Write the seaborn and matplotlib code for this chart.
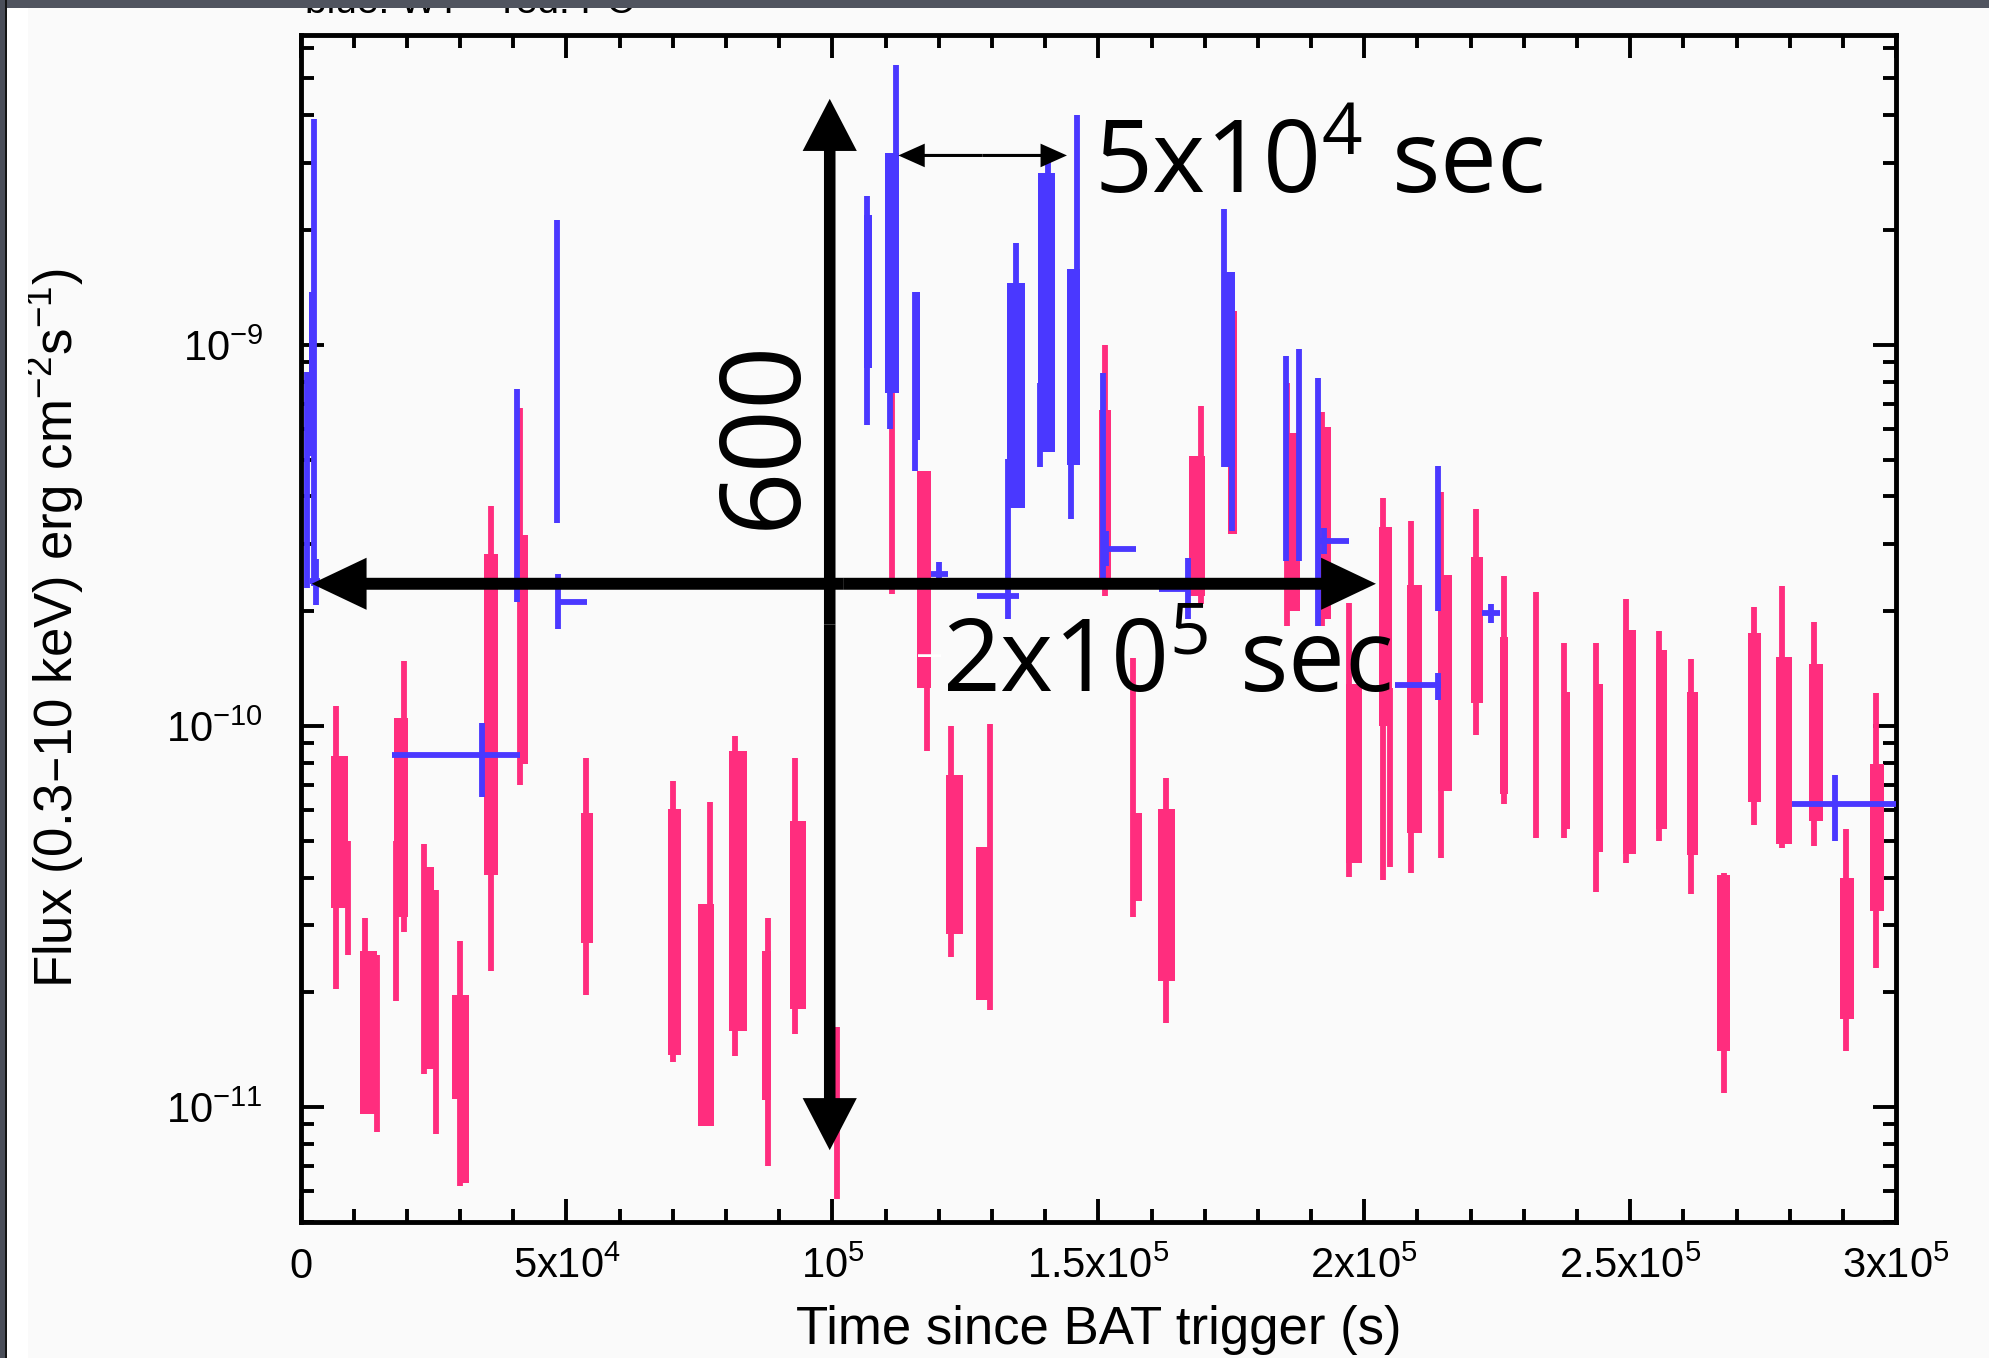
import matplotlib
matplotlib.use("Agg")
import numpy as np
import matplotlib.pyplot as plt
import seaborn as sns
from matplotlib.patches import Rectangle, FancyArrowPatch
from matplotlib.ticker import MultipleLocator, LogLocator, NullFormatter

# --- PC mode (pink): single error bars, time in ks, flux in erg cm^-2 s^-1
pc_line_t = [6.7, 8.9, 12.2, 14.4, 19.4, 17.9, 23.3, 25.5, 29.9, 35.8, 41.2, 53.7,
             70.0, 77.0, 81.7, 87.9, 93.0, 100.8, 111.2, 117.8, 122.3, 129.6, 151.3,
             156.6, 162.8, 169.3, 185.5, 192.0, 197.2, 203.5, 204.8, 208.8, 214.5,
             221.0, 226.3, 232.3, 237.6, 243.5, 249.3, 255.5, 261.5, 267.6, 273.2,
             278.6, 284.6, 290.5, 296.2]
pc_line_lo = [2.04e-11, 2.5e-11, 9.6e-12, 8.6e-12, 2.88e-11, 1.9e-11, 1.22e-11, 8.5e-12,
              6.2e-12, 2.27e-11, 6.98e-11, 1.97e-11, 1.31e-11, 2.5e-11, 1.36e-11, 7.0e-12,
              1.55e-11, 5.75e-12, 2.22e-10, 8.6e-11, 2.48e-11, 1.8e-11, 2.19e-10, 3.16e-11,
              1.66e-11, 2.09e-10, 1.83e-10, 1.83e-10, 4.02e-11, 3.93e-11, 4.27e-11, 4.11e-11,
              4.51e-11, 9.46e-11, 6.24e-11, 5.07e-11, 5.07e-11, 3.66e-11, 4.36e-11, 5.0e-11,
              3.61e-11, 1.09e-11, 5.5e-11, 4.79e-11, 4.83e-11, 1.4e-11, 2.32e-11]
pc_line_hi = [1.13e-10, 5.0e-11, 3.13e-11, 2.5e-11, 1.48e-10, 5.0e-11, 4.9e-11, 3.7e-11,
              2.72e-11, 3.78e-10, 6.82e-10, 8.26e-11, 7.16e-11, 6.3e-11, 9.4e-11, 3.13e-11,
              8.26e-11, 1.62e-11, 1.0e-9, 1.58e-10, 1.0e-10, 1.01e-10, 1.0e-9, 1.51e-10,
              7.31e-11, 6.9e-10, 7.94e-10, 6.67e-10, 2.1e-10, 3.96e-10, 1.26e-10, 3.44e-10,
              4.1e-10, 3.7e-10, 2.47e-10, 2.25e-10, 1.65e-10, 1.65e-10, 2.15e-10, 1.77e-10,
              1.5e-10, 4.12e-11, 2.05e-10, 2.33e-10, 1.87e-10, 5.37e-11, 1.22e-10]

# PC mode: dense groups of bars inside one orbit (start, end in ks)
pc_stack_t0 = [5.7, 11.1, 17.6, 23.0, 28.4, 29.9, 34.5, 41.0, 52.8, 69.0, 74.8, 80.6,
               86.7, 92.0, 116.0, 121.3, 127.0, 150.2, 156.2, 161.2, 167.1, 174.3, 185.3,
               191.6, 196.6, 202.8, 208.0, 213.9, 220.1, 225.5, 237.6, 243.2, 248.6, 254.8,
               260.6, 266.3, 272.2, 277.5, 283.7, 289.4, 295.0]
pc_stack_t1 = [8.9, 14.3, 20.2, 25.0, 31.6, 31.6, 37.2, 42.8, 55.0, 71.6, 77.7, 84.0,
               88.5, 95.0, 118.6, 124.5, 129.9, 152.4, 158.3, 164.5, 170.0, 176.1, 188.0,
               193.7, 199.5, 205.2, 210.9, 216.5, 222.3, 227.1, 238.7, 244.9, 251.1, 256.9,
               262.8, 268.7, 274.6, 280.4, 286.2, 292.0, 297.8]
pc_stack_lo = [3.33e-11, 9.6e-12, 3.16e-11, 1.26e-11, 1.05e-11, 6.3e-12, 4.07e-11, 7.94e-11,
               2.69e-11, 1.37e-11, 8.93e-12, 1.58e-11, 1.04e-11, 1.81e-11, 1.26e-10, 2.84e-11,
               1.91e-11, 2.4e-10, 3.47e-11, 2.14e-11, 2.19e-10, 3.18e-10, 2.0e-10, 1.91e-10,
               4.36e-11, 1.0e-10, 5.25e-11, 6.76e-11, 1.15e-10, 6.61e-11, 5.37e-11, 4.68e-11,
               4.61e-11, 5.37e-11, 4.57e-11, 1.4e-11, 6.31e-11, 4.9e-11, 5.62e-11, 1.7e-11,
               3.27e-11]
pc_stack_hi = [8.36e-11, 2.56e-11, 1.05e-10, 4.27e-11, 1.97e-11, 1.05e-11, 2.82e-10, 3.16e-10,
               5.92e-11, 6.05e-11, 3.41e-11, 8.57e-11, 2.56e-11, 5.64e-11, 4.67e-10, 7.41e-11,
               4.81e-11, 6.76e-10, 5.89e-11, 6.05e-11, 5.12e-10, 1.23e-9, 5.87e-10, 6.08e-10,
               1.29e-10, 3.33e-10, 2.34e-10, 2.49e-10, 2.77e-10, 1.71e-10, 1.23e-10, 1.29e-10,
               1.79e-10, 1.58e-10, 1.23e-10, 4.07e-11, 1.75e-10, 1.52e-10, 1.45e-10, 3.98e-11,
               7.94e-11]

# --- WT mode (blue)
wt_line_t = [2.6, 1.3, 40.7, 48.3, 106.5, 112.0, 110.9, 115.6, 134.6, 133.0, 140.6,
             139.1, 145.9, 144.9, 150.8, 173.6, 175.2, 185.2, 187.7, 191.3, 213.9]
wt_line_lo = [2.33e-10, 2.3e-10, 2.12e-10, 3.41e-10, 6.15e-10, 2.51e-9, 6.01e-10, 4.67e-10,
              1.0e-9, 2.49e-10, 2.0e-9, 4.78e-10, 1.12e-9, 3.49e-10, 2.29e-10, 4.78e-10,
              3.24e-10, 2.71e-10, 2.7e-10, 1.83e-10, 2.0e-10]
wt_line_hi = [3.91e-9, 8.51e-10, 7.66e-10, 2.12e-9, 2.46e-9, 5.41e-9, 1.0e-9, 1.38e-9,
              1.85e-9, 5.01e-10, 3.03e-9, 7.94e-10, 4.0e-9, 6.31e-10, 8.41e-10, 2.27e-9,
              5.01e-10, 9.33e-10, 9.77e-10, 8.2e-10, 4.82e-10]

wt_stack_t0 = [1.5, 106.0, 109.9, 115.2, 132.9, 138.7, 144.1, 173.6]
wt_stack_t1 = [3.0, 107.4, 112.6, 116.4, 136.2, 141.9, 146.6, 175.7]
wt_stack_lo = [5.12e-10, 8.71e-10, 7.48e-10, 5.62e-10, 3.74e-10, 5.24e-10, 4.83e-10, 4.78e-10]
wt_stack_hi = [1.38e-9, 2.19e-9, 3.18e-9, 1.38e-9, 1.45e-9, 2.83e-9, 1.58e-9, 1.55e-9]

# WT points with long time bins
wt_bin_t = [3.0, 34.1, 48.5, 120.0, 133.0, 151.5, 166.8, 192.5, 213.9, 223.9, 288.5]
wt_bin_f = [2.4e-10, 8.4e-11, 2.12e-10, 2.51e-10, 2.19e-10, 2.92e-10, 2.28e-10, 3.05e-10,
            1.28e-10, 1.98e-10, 6.24e-11]
wt_bin_lo = [2.07e-10, 6.5e-11, 1.8e-10, 2.34e-10, 1.91e-10, 2.63e-10, 1.91e-10, 2.82e-10,
             1.17e-10, 1.86e-10, 5.0e-11]
wt_bin_hi = [2.74e-10, 1.02e-10, 2.51e-10, 2.69e-10, 2.51e-10, 3.24e-10, 2.75e-10, 3.31e-10,
             1.38e-10, 2.09e-10, 7.41e-11]
wt_bin_t0 = [1.8, 17.2, 48.5, 118.6, 127.2, 150.8, 161.4, 191.6, 205.7, 222.2, 280.4]
wt_bin_t1 = [3.6, 41.3, 53.9, 121.8, 135.0, 157.0, 167.0, 197.2, 214.5, 225.5, 300.0]

x_ticks = [0, 5e4, 1e5, 1.5e5, 2e5, 2.5e5, 3e5]
x_tick_labels = ["0", "5x10$^{4}$", "10$^{5}$", "1.5x10$^{5}$", "2x10$^{5}$",
                 "2.5x10$^{5}$", "3x10$^{5}$"]
y_ticks = [1e-11, 1e-10, 1e-9]
y_tick_labels = ["10$^{-11}$", "10$^{-10}$", "10$^{-9}$"]

sns.set_theme(style="ticks", rc={"figure.facecolor": "#fafafa", "axes.facecolor": "#fafafa"})
plt.rcParams["font.family"] = ["Liberation Sans", "DejaVu Sans"]
plt.rcParams["mathtext.default"] = "regular"

PINK = "#ff2d7e"
BLUE = "#4a38ff"
ks = 1e3
bar_lw = 4.2
note_font = ["Open Sans", "DejaVu Sans"]

fig = plt.figure(figsize=(19.89, 13.58), dpi=100)
ax = fig.add_axes([0.1511, 0.1004, 0.8022, 0.8738])
ax.set_yscale("log")

# PC light curve
t0 = np.array(pc_stack_t0)
ax.bar(t0 * ks, np.array(pc_stack_hi) - np.array(pc_stack_lo), bottom=pc_stack_lo,
       width=(np.array(pc_stack_t1) - t0) * ks, align="edge", color=PINK, linewidth=0, zorder=2)
ax.vlines(np.array(pc_line_t) * ks, pc_line_lo, pc_line_hi, colors=PINK, linewidth=bar_lw,
          capstyle="butt", zorder=2)

# WT light curve
t0 = np.array(wt_stack_t0)
ax.bar(t0 * ks, np.array(wt_stack_hi) - np.array(wt_stack_lo), bottom=wt_stack_lo,
       width=(np.array(wt_stack_t1) - t0) * ks, align="edge", color=BLUE, linewidth=0, zorder=3)
ax.vlines(np.array(wt_line_t) * ks, wt_line_lo, wt_line_hi, colors=BLUE, linewidth=bar_lw,
          capstyle="butt", zorder=3)
bt = np.array(wt_bin_t)
bf = np.array(wt_bin_f)
ax.errorbar(bt * ks, bf,
            yerr=[bf - np.array(wt_bin_lo), np.array(wt_bin_hi) - bf],
            xerr=[(bt - np.array(wt_bin_t0)) * ks, (np.array(wt_bin_t1) - bt) * ks],
            fmt="none", ecolor=BLUE, elinewidth=bar_lw, capsize=0, zorder=3)

ax.set_xlim(0, 3e5)
ax.set_ylim(5e-12, 6.5e-9)
ax.set_xticks(x_ticks)
ax.set_xticklabels(x_tick_labels)
ax.xaxis.set_minor_locator(MultipleLocator(1e4))
ax.set_yticks(y_ticks)
ax.set_yticklabels(y_tick_labels)
ax.yaxis.set_minor_locator(LogLocator(base=10, subs=np.arange(2, 10)))
ax.yaxis.set_minor_formatter(NullFormatter())
ax.tick_params(which="both", direction="in", top=True, right=True, color="black",
               labelcolor="black", width=2.8, labelsize=30)
ax.tick_params(which="major", length=16.5)
ax.tick_params(which="minor", length=9.5)
ax.tick_params(axis="x", which="major", pad=18)
ax.tick_params(axis="y", which="major", pad=27)
for s in ax.spines.values():
    s.set_linewidth(3.5)
    s.set_color("black")

ax.set_xlabel("Time since BAT trigger (s)", fontsize=38, color="black")
ax.xaxis.set_label_coords(0.5, -0.070)
ax.set_ylabel("Flux (0.3–10 keV) erg cm$^{-2}$s$^{-1}$)", fontsize=38, color="black")
ax.yaxis.set_label_coords(-0.1345, 0.5)


def two_headed(p_a, p_b, tail, head_w, head_len):
    mid = ((p_a[0] + p_b[0]) / 2, np.sqrt(p_a[1] * p_b[1]))
    style = f"simple,head_length={head_len},head_width={head_w},tail_width={tail}"
    for tip in (p_a, p_b):
        ax.add_patch(FancyArrowPatch(mid, tip, arrowstyle=style, mutation_scale=1,
                                     color="black", lw=0, shrinkA=0, shrinkB=0,
                                     zorder=10, clip_on=False))


# hand-drawn annotations on top of the light curve
two_headed((99.5 * ks, 4.42e-9), (99.5 * ks, 7.7e-12), 8.3, 39, 37.5)
two_headed((2.1 * ks, 2.36e-10), (202.2 * ks, 2.36e-10), 8.6, 37.5, 39.5)
two_headed((112.4 * ks, 3.14e-9), (144.1 * ks, 3.14e-9), 2.2, 17, 19)

fig.text(0.3851, 0.6804, "600", rotation=90, ha="center", va="center", fontsize=80,
         family=note_font, color="black")
fig.text(0.5500, 0.8579, "5x10$^{4}$ sec", ha="left", va="baseline", fontsize=73,
         family=note_font, color="black")
fig.text(0.4736, 0.4904, "2x10$^{5}$ sec", ha="left", va="baseline", fontsize=73,
         family=note_font, color="black")
fig.text(0.4676, 0.5177, "–", ha="center", va="center", fontsize=30, color="white")

# slide frame: cut-off title line, dark border
fig.text(305 / 1989, 1 - 13 / 1358, "blue: WT    red: PC", ha="left", va="baseline",
         fontsize=28, color="black", zorder=5)
fig.add_artist(Rectangle((7 / 1989, 0), 21 / 1989, 1, transform=fig.transFigure,
                         color="white", lw=0, zorder=1))
fig.add_artist(Rectangle((0, 1 - 8 / 1358), 1, 8 / 1358, transform=fig.transFigure,
                         color="#50545f", lw=0, zorder=20))
fig.add_artist(Rectangle((0, 0), 5 / 1989, 1, transform=fig.transFigure,
                         color="#4a4e59", lw=0, zorder=20))
fig.add_artist(Rectangle((5 / 1989, 0), 2 / 1989, 1, transform=fig.transFigure,
                         color="#151515", lw=0, zorder=20))

fig.savefig("out.png", dpi=100, facecolor=fig.get_facecolor())
